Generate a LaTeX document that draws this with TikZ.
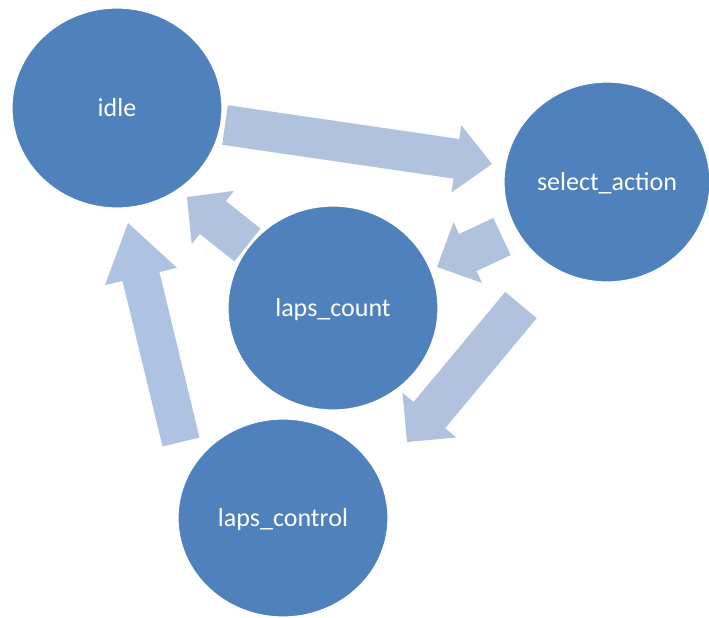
\documentclass[tikz,border=0pt]{standalone}
\usepackage{fontspec}
\setmainfont{Carlito}
\usetikzlibrary{shapes.geometric,calc}
\definecolor{nodeblue}{HTML}{4F81BD}
\definecolor{arrowblue}{HTML}{B1C2DE}
\definecolor{arrowblueb}{HTML}{ADC3E1}
\newcommand{\BlkArrow}[6]{%
  \coordinate (hb) at ($(#3)!#6!(#2)$);
  \fill[#1] ($(#2)!#4!90:(#3)$) -- ($(hb)!#4!90:(#3)$) -- ($(hb)!#5!90:(#3)$) -- (#3)
    -- ($(hb)!#5!-90:(#3)$) -- ($(hb)!#4!-90:(#3)$) -- ($(#2)!#4!-90:(#3)$) -- cycle;}
\tikzset{
  state/.style={ellipse, fill=nodeblue, draw=white, line width=1.2pt, inner sep=0pt,
    text=white, font=\fontsize{26}{30}\selectfont, text height=18pt, text depth=2pt},
  arr/.style={fill=arrowblue},
  arrb/.style={fill=arrowblueb}
}
\begin{document}
\begin{tikzpicture}[x=1pt,y=-1pt]
\useasboundingbox (0,0) rectangle (709,618);
% arrow end points
\coordinate (a1t) at (225,125);   \coordinate (a1h) at (492,164);
\coordinate (a2t) at (247.5,245); \coordinate (a2h) at (187,197);
\coordinate (a3t) at (181,442);   \coordinate (a3h) at (128,223);
\coordinate (a4t) at (502,236.5); \coordinate (a4h) at (437,267);
\coordinate (a5t) at (521,305);   \coordinate (a5h) at (407,442);
\BlkArrow{arr}{a1t}{a1h}{20pt}{34pt}{36pt}
\BlkArrow{arr}{a2t}{a2h}{21pt}{34pt}{33pt}
\BlkArrow{arrb}{a3t}{a3h}{19pt}{37pt}{55pt}
\BlkArrow{arr}{a4t}{a4h}{20.5pt}{33.5pt}{34pt}
\BlkArrow{arr}{a5t}{a5h}{20.5pt}{35pt}{35pt}
% states
\node[state, minimum width=210pt, minimum height=200pt] (idle) at (117,108) {idle};
\node[state, minimum width=206pt, minimum height=200pt] (sel) at (607,182) {select\_action};
\node[state, minimum width=210pt, minimum height=204pt] (count) at (333,308) {laps\_count};
\node[state, minimum width=210pt, minimum height=198pt] (ctrl) at (283,518) {laps\_control};
\end{tikzpicture}
\end{document}
